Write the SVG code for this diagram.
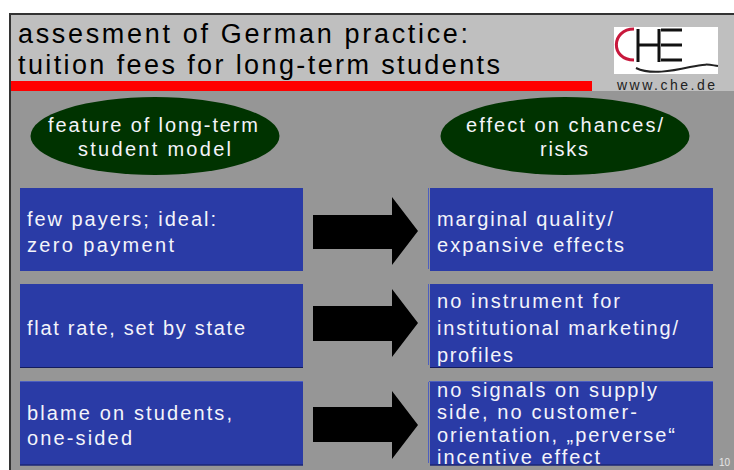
<svg xmlns="http://www.w3.org/2000/svg" width="734" height="470" viewBox="0 0 734 470">
<style>
text{font-family:"Liberation Sans",Arial,sans-serif}
.t{font-size:27px;fill:#000}
.w{font-size:20px;fill:#f4f4fa}
.b{fill:#2a3ba6}
.e{fill:#003300}
.a{fill:#000}
.hi{stroke:#4d5fc0;stroke-width:1;fill:none}
.lo{stroke:#141c5c;stroke-width:1;fill:none}
</style>
<rect width="734" height="470" fill="#fff"/>
<rect x="11" y="15" width="723" height="455" fill="#969696"/>
<rect x="11" y="15" width="723" height="76" fill="#bfbfbf"/>
<path d="M10 470V14H734" fill="none" stroke="#333" stroke-width="2"/>
<rect x="11" y="81" width="581" height="10" fill="#f00"/>
<text class="t" x="18" y="43" textLength="450">assesment of German practice:</text>
<text class="t" x="18" y="74" textLength="482">tuition fees for long-term students</text>
<g id="logo">
<rect x="614" y="27" width="104" height="47" fill="#fff"/>
<path d="M634 29C611 29 610 60 634 60" fill="none" stroke="#c8183c" stroke-width="3"/>
<path d="M638 29V62M659 29V62M661 30H682M661 45H682M661 60H682M639 45H658" fill="none" stroke="#111" stroke-width="3"/>
<path d="M636 68C650 75 672 71 690 67S710 65 718 66" fill="none" stroke="#222" stroke-width="2"/>
<text x="617" y="90" font-size="14" fill="#222" textLength="98">www.che.de</text>
</g>
<g id="node-left-header">
<ellipse class="e" cx="155" cy="136" rx="124.5" ry="39"/>
<text class="w" x="48" y="132" textLength="210">feature of long-term</text>
<text class="w" x="78" y="156" textLength="153">student model</text>
</g>
<g id="node-right-header">
<ellipse class="e" cx="565" cy="136" rx="124.5" ry="39"/>
<text class="w" x="466" y="132" textLength="197">effect on chances/</text>
<text class="w" x="540" y="156" textLength="48">risks</text>
</g>
<g id="node-l1"><rect class="b" x="20" y="188" width="283" height="83"/>
<text class="w" x="27" y="225.500" textLength="189">few payers; ideal:</text>
<text class="w" x="27" y="252" textLength="147">zero payment</text></g>
<g id="node-l2"><rect class="b" x="20" y="284" width="283" height="84"/>
<path class="lo" d="M20 367.500H303"/>
<text class="w" x="27" y="335" textLength="218">flat rate, set by state</text></g>
<g id="node-l3"><rect class="b" x="20" y="381" width="283" height="84.500"/>
<path class="hi" d="M20 381.500H303"/><path class="lo" d="M20 465H303"/>
<text class="w" x="27" y="420" textLength="205">blame on students,</text>
<text class="w" x="27" y="445" textLength="105">one-sided</text></g>
<g id="node-r1"><rect class="b" x="430" y="188" width="283" height="83"/>
<path class="hi" d="M428.500 188V269"/>
<text class="w" x="437" y="225.500" textLength="176">marginal quality/</text>
<text class="w" x="437" y="252" textLength="187">expansive effects</text></g>
<g id="node-r2"><rect class="b" x="430" y="284" width="283" height="84"/>
<path class="hi" d="M428.500 284V365"/><path class="lo" d="M430 367.500H713"/>
<text class="w" x="437" y="308" textLength="183">no instrument for</text>
<text class="w" x="437" y="335" textLength="241">institutional marketing/</text>
<text class="w" x="437" y="362" textLength="76">profiles</text></g>
<g id="node-r3"><rect class="b" x="430" y="381" width="283" height="84.500"/>
<path class="hi" d="M428.500 382V463M429 381.500H713"/><path class="lo" d="M430 465H713"/>
<text class="w" x="437" y="397" textLength="220">no signals on supply</text>
<text class="w" x="437" y="418.500" textLength="200">side, no customer-</text>
<text class="w" x="437" y="441.500" textLength="238">orientation, „perverse“</text>
<text class="w" x="437" y="464" textLength="163">incentive effect</text></g>
<g id="connectors">
<path class="a" d="M313 215H392V197L418 231L392 265V249H313Z"/>
<path class="a" d="M313 306H392V289L418 323L392 357V341H313Z"/>
<path class="a" d="M313 407H392V391L418 425L392 459V442H313Z"/>
</g>
<text x="719" y="466" font-size="10" fill="#e6e6e6">10</text>
</svg>
